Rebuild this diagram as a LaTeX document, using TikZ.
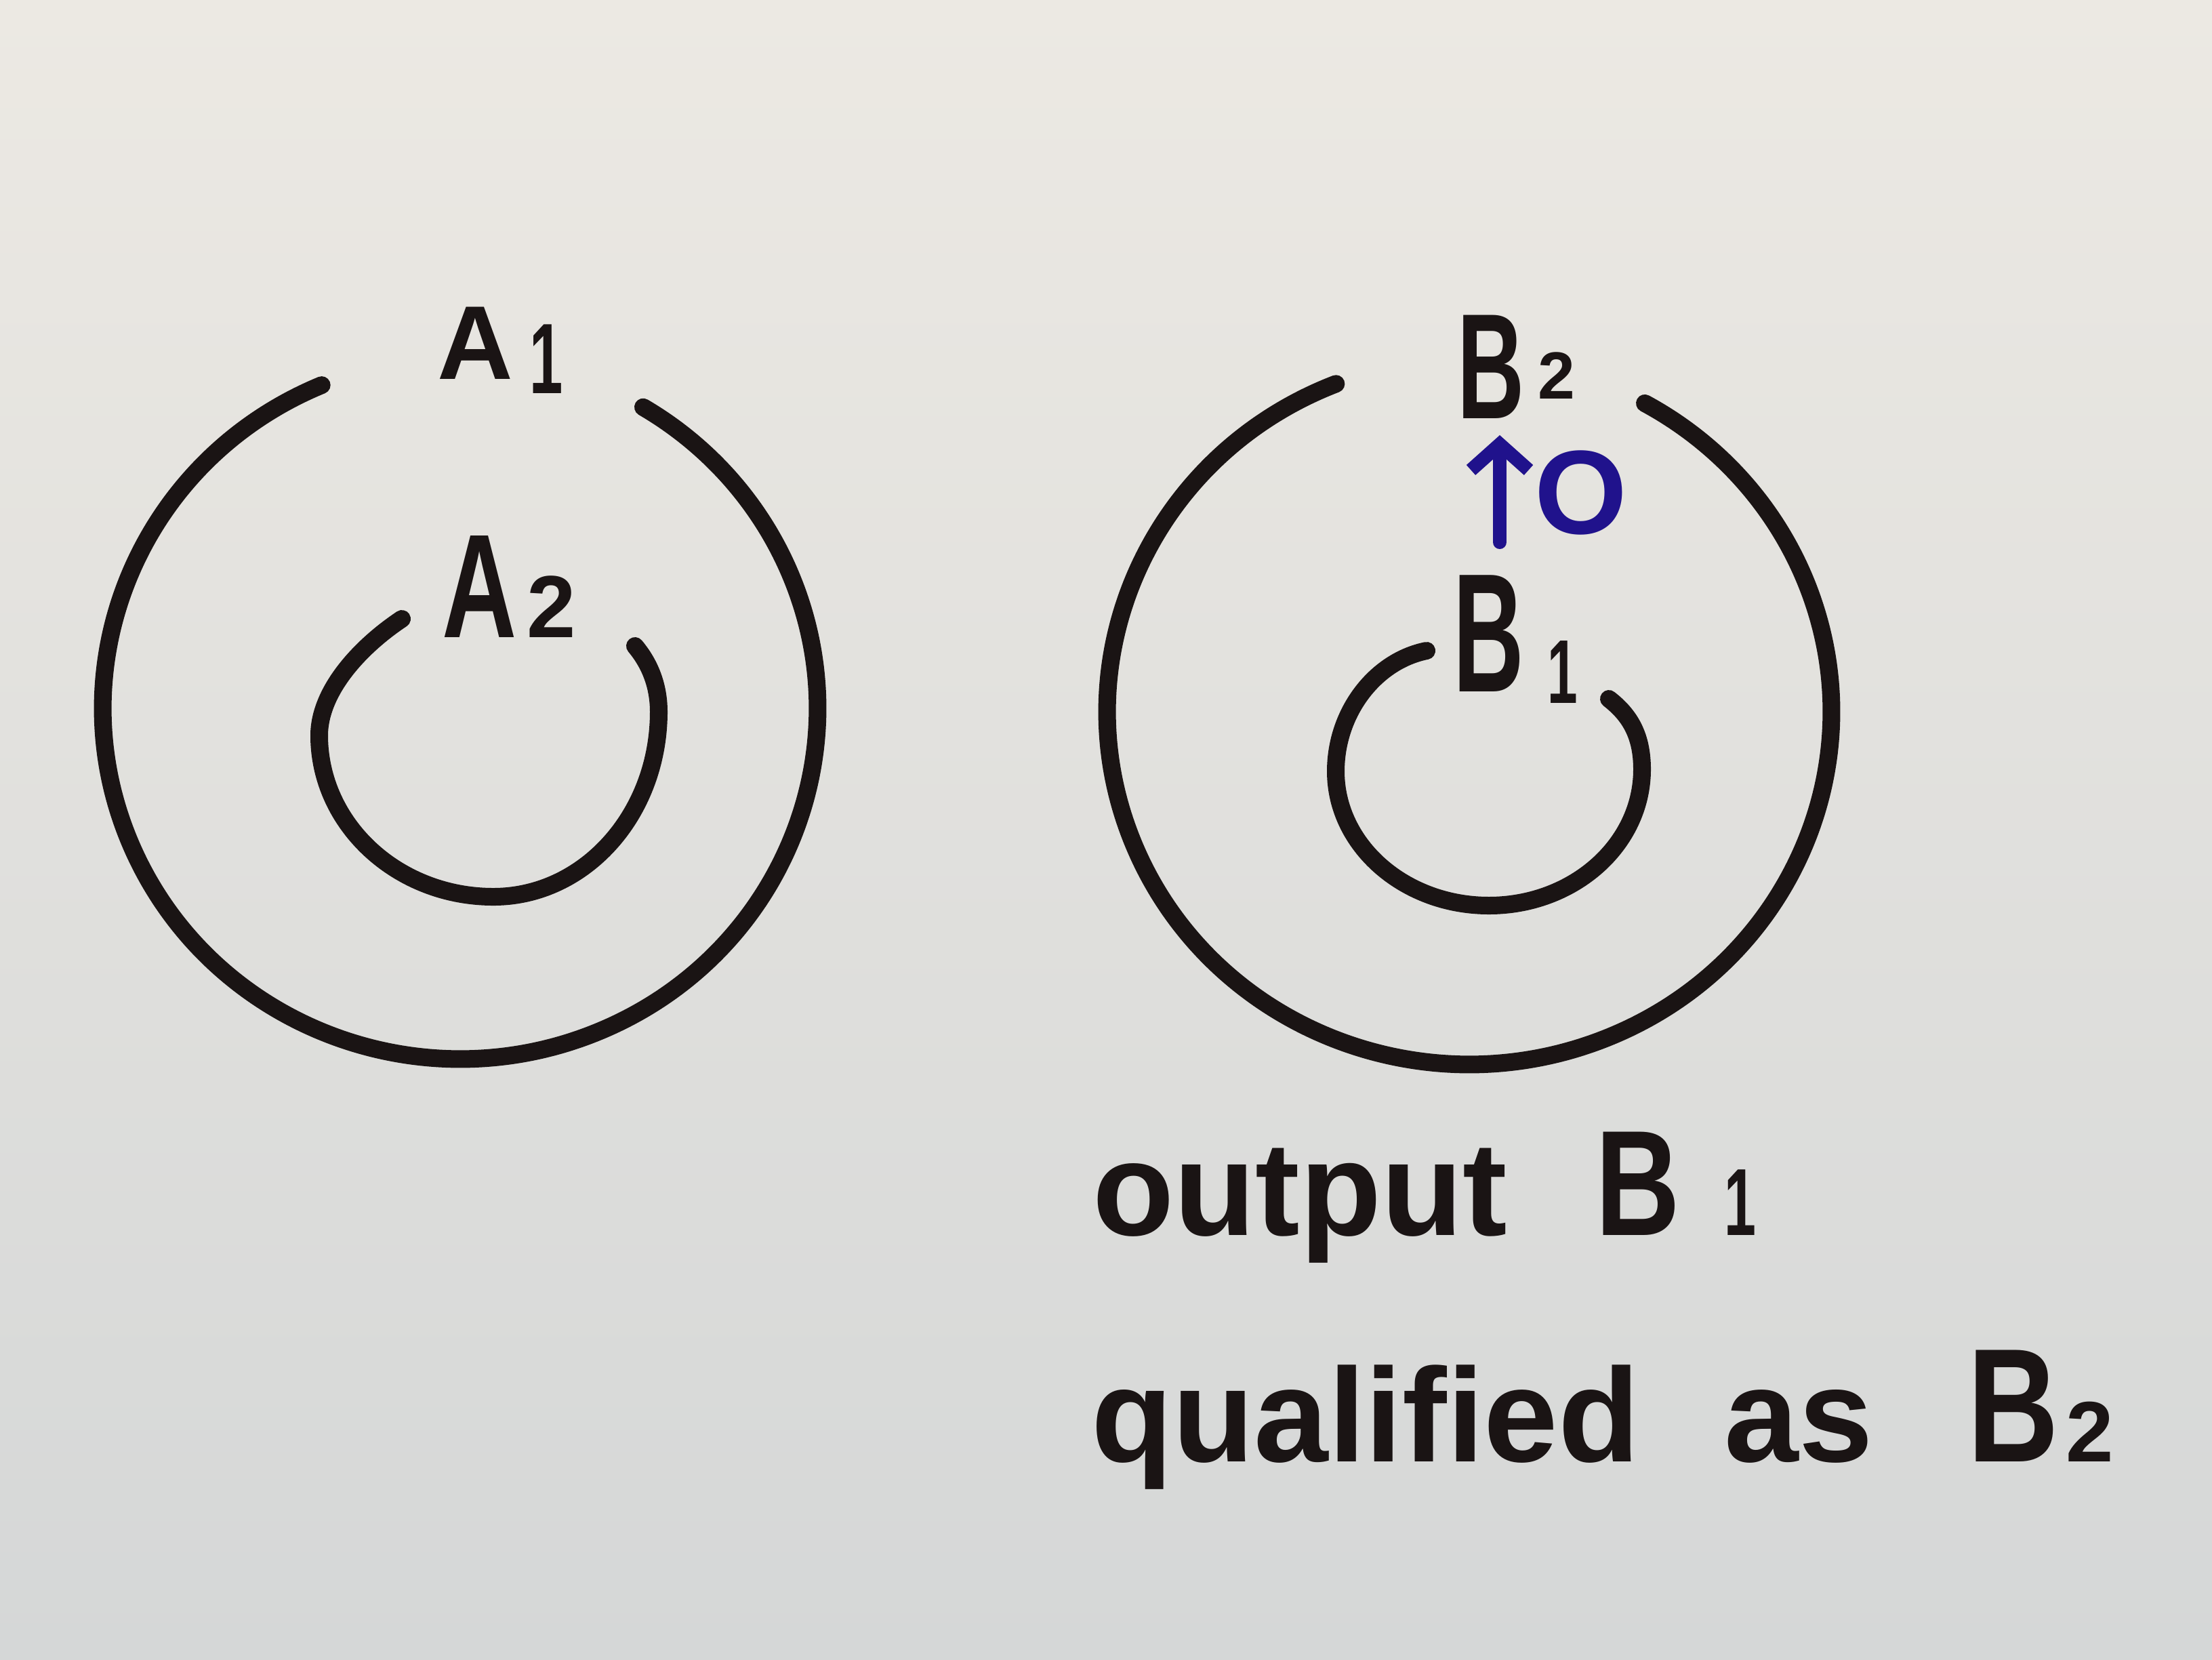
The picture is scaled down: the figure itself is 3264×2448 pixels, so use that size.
\documentclass[tikz,border=0pt]{standalone}
\usepackage{fontspec}
\setmainfont{Liberation Sans}
\usetikzlibrary{arrows.meta}
\definecolor{paperTop}{RGB}{236,233,227}
\definecolor{paperMid}{RGB}{224,224,221}
\definecolor{paperBot}{RGB}{213,215,215}
\definecolor{ink}{RGB}{26,20,20}
\definecolor{blueink}{RGB}{32,18,140}
\newcommand\myfs[1]{\fontsize{#1}{#1}\selectfont}
\newcommand\narrow[2]{\scalebox{#1}[1]{#2}}
\begin{document}
\begin{tikzpicture}[x=0.01cm,y=-0.01cm,
  pen/.style={draw=ink, line width=0.26cm, line cap=round, line join=round},
  lbl/.style={anchor=base west, inner sep=0pt, outer sep=0pt, text=ink, font=\bfseries},
  bluepen/.style={draw=blueink, line width=0.2cm, line cap=round}]
\useasboundingbox (0,0) rectangle (3264,2448);
\shade[top color=paperTop, middle color=paperMid, bottom color=paperBot] (0,0) rectangle (3264,2448);

% left outer ring (gap at top)
\draw[pen] (679,1045) ++(112.8:5.27cm and 5.17cm)
  arc[start angle=112.8, end angle=419.2, x radius=5.27cm, y radius=5.17cm];
% left inner ring
\draw[pen] (593,913) .. controls (530,955) and (471,1020) .. (471,1085)
  .. controls (471,1216) and (586,1323) .. (728,1323)
  .. controls (863,1323) and (972,1201) .. (972,1050)
  .. controls (972,1010) and (958,978) .. (937,953);
% right outer ring
\draw[pen] (2168,1050) ++(111.6:5.34cm and 5.2cm)
  arc[start angle=111.6, end angle=421, x radius=5.34cm, y radius=5.2cm];
% right inner ring
\draw[pen] (2105,960) .. controls (2030,975) and (1971,1050) .. (1971,1138)
  .. controls (1971,1247) and (2072,1336) .. (2197,1336)
  .. controls (2322,1336) and (2423,1246) .. (2423,1135)
  .. controls (2423,1085) and (2405,1055) .. (2374,1031);

% labels
\node[lbl] (A1) at (645,559) {\myfs{44pt}A\hspace{0.25cm}\raisebox{-6pt}{\narrow{0.6}{\myfs{42pt}1}}};
\node[lbl] (A2) at (652,940) {\myfs{62pt}\narrow{0.7}{A}\hspace{0.15cm}{\myfs{37pt}2}};
\node[lbl] (B2) at (2150,617) {\myfs{63pt}\narrow{0.62}{B}\hspace{0.2cm}\raisebox{8pt}{\myfs{28pt}2}};
\node[lbl] (B1) at (2144,1020) {\myfs{71pt}\narrow{0.58}{B}\hspace{0.35cm}\raisebox{-5pt}{\narrow{0.6}{\myfs{38pt}1}}};

% blue annotation
\coordinate (arrS) at (2213,800);
\coordinate (arrE) at (2213,642);
\draw[bluepen, -{Straight Barb[length=0.38cm, width=0.85cm]}] (arrS) -- (arrE);
\node[anchor=center, inner sep=0pt, text=blueink, font=\bfseries\myfs{50pt}] (blueO) at (2333,727) {O};

% caption
\node[lbl] (out) at (1612,1822) {\myfs{56pt}output\hspace*{1.3cm}\narrow{0.78}{\myfs{63pt}B}\hspace*{0.65cm}\narrow{0.6}{\myfs{40pt}1}};
\node[lbl] (qual) at (1610,2156) {\myfs{56pt}qualified\hspace*{1.25cm}as\hspace*{1.4cm}\narrow{0.78}{\myfs{68pt}B}\hspace*{0.1cm}{\myfs{36pt}2}};
\end{tikzpicture}
\end{document}
